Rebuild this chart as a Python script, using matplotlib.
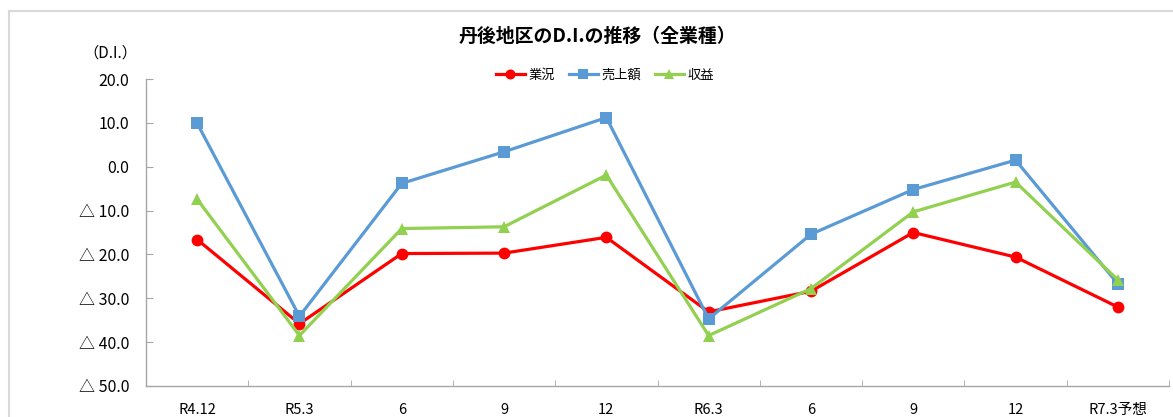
import numpy as np
import matplotlib
matplotlib.use("Agg")
from matplotlib import pyplot as plt
from matplotlib.ticker import FuncFormatter, FixedLocator
from matplotlib.lines import Line2D

plt.rcParams['font.family'] = ['Noto Sans CJK JP', 'DejaVu Sans']

periods = ['R4.12', 'R5.3', '6', '9', '12', 'R6.3', '6', '9', '12', 'R7.3予想']
gyokyo = [-16.6, -35.8, -19.8, -19.7, -16.1, -33.1, -28.4, -15.0, -20.6, -32.0]
uriage = [9.9, -34.1, -3.8, 3.4, 11.2, -34.7, -15.4, -5.2, 1.5, -26.7]
shueki = [-7.4, -38.5, -14.1, -13.7, -1.9, -38.5, -27.8, -10.3, -3.5, -25.8]

W, H = 1173, 417
fig = plt.figure(figsize=(W / 100, H / 100), dpi=100)

# chart-area frame (top and left edges visible)
fig.add_artist(Line2D([9 / W, 1.0], [1 - 11 / H, 1 - 11 / H], color='#d9d9d9', lw=1.5))
fig.add_artist(Line2D([9 / W, 9 / W], [0.0, 1 - 11 / H], color='#d9d9d9', lw=1.5))

ax = fig.add_axes([146 / W, 1 - 386 / H, (1169 - 146) / W, (386 - 79) / H])

x = np.arange(len(periods))
series = [
    ('業況', gyokyo, '#ff0000', 'o', 8.5),
    ('売上額', uriage, '#5b9bd5', 's', 8),
    ('収益', shueki, '#92d050', '^', 9),
]
handles = []
for name, vals, col, mk, ms in series:
    h, = ax.plot(x, vals, color=col, lw=2.3, marker=mk, ms=ms,
                 markeredgewidth=0, label=name)
    handles.append(h)

ax.set_xlim(-0.5, len(periods) - 0.5)
ax.set_ylim(-50, 20)
ax.set_yticks(np.arange(-50, 21, 10))


def di_fmt(v, pos):
    if v < 0:
        return '△ %.1f' % (-v)
    return '%.1f' % v


ax.yaxis.set_major_formatter(FuncFormatter(di_fmt))
ax.set_xticks(x)
ax.set_xticklabels(periods)
ax.xaxis.set_minor_locator(FixedLocator(np.arange(-0.5, len(periods), 1.0)))
ax.tick_params(axis='x', which='major', length=0, pad=12, labelsize=10.5)
ax.tick_params(axis='x', which='minor', direction='in', length=4, color='#a6a6a6')
ax.tick_params(axis='y', direction='in', length=5, color='#a6a6a6', pad=12, labelsize=11.5)

for s in ['top', 'right']:
    ax.spines[s].set_visible(False)
for s in ['left', 'bottom']:
    ax.spines[s].set_color('#a6a6a6')
    ax.spines[s].set_linewidth(1.0)

fig.text(597 / W, 1 - 36 / H, '丹後地区のD.I.の推移（全業種）', ha='center', va='center',
         fontsize=13.6, fontweight='bold')
fig.text(110 / W, 1 - 53 / H, '（D.I.）', ha='center', va='center', fontsize=11)

fig.legend(handles=handles, loc='center', bbox_to_anchor=(605 / W, 1 - 75 / H),
           ncol=3, frameon=False, fontsize=9.5, handlelength=2.2,
           handletextpad=0.3, columnspacing=1.0, markerscale=0.85)

fig.savefig('out.png', dpi=100)
